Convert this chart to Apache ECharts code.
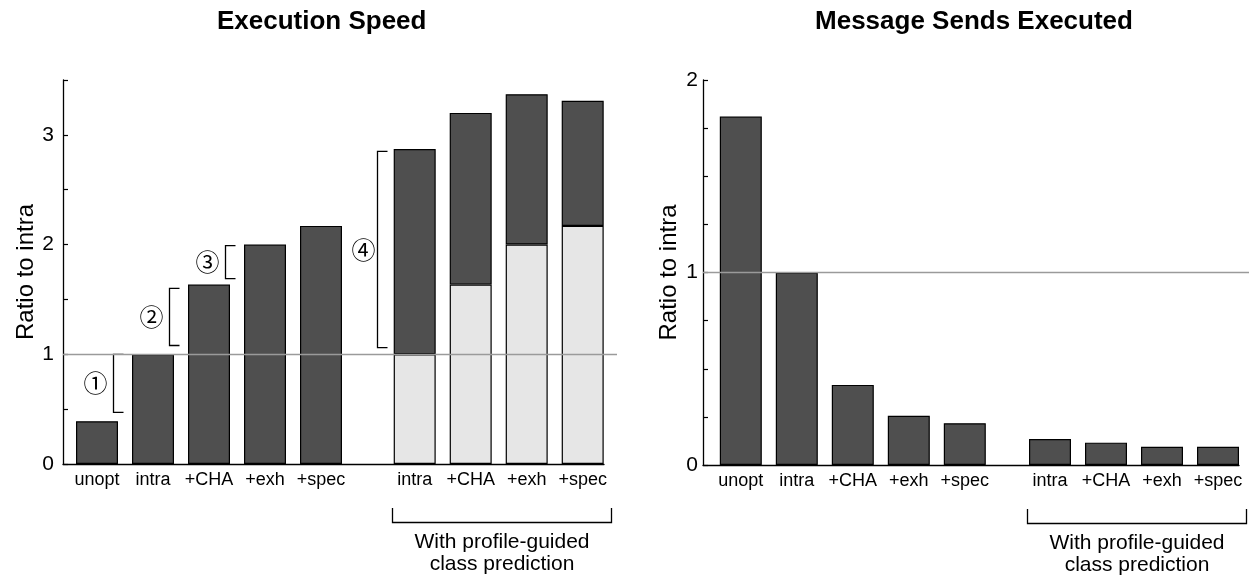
<!DOCTYPE html>
<html><head><meta charset="utf-8">
<script src="https://cdn.jsdelivr.net/npm/echarts@6/dist/echarts.min.js"></script>
<style>html,body{margin:0;padding:0;background:#fff}#c{width:1249px;height:578px}</style>
</head><body><div id="c"></div>
<script>
// ---------- data ----------
const titles = ['Execution Speed', 'Message Sends Executed'];
const yAxisName = 'Ratio to intra';
const baseCats = ['unopt', 'intra', '+CHA', '+exh', '+spec'];
const profileCats = ['intra', '+CHA', '+exh', '+spec'];
const speedBase = [0.39, 1.0, 1.635, 2.0, 2.17];
const speedProfileLower = [1.0, 1.635, 2.0, 2.17];
const speedProfileUpper = [1.87, 1.565, 1.37, 1.14];
const sendsBase = [1.81, 1.0, 0.416, 0.256, 0.217];
const sendsProfile = [0.135, 0.116, 0.095, 0.095];
const speedAxis = [0, 3.5, 0.5];   // min, max, tick step
const sendsAxis = [0, 2, 0.25];
const referenceValue = 1;
const speedStepLabels = ['①', '②', '③'];
const speedStepCats = [0, 1, 2];
const speedStepLow = [0.47, 1.08, 1.69];
const speedStepHigh = [1.0, 1.60, 1.99];
const profileStepLabels = ['④'];
const profileStepCats = [0];
const profileStepLow = [1.06];
const profileStepHigh = [2.85];
const groupNote = ['With profile-guided', 'class prediction'];

// ---------- styles ----------
const FONT = "'Liberation Sans', Arial, Helvetica, sans-serif";
const DARK = '#4f4f4f', LIGHT = '#e6e6e6';
const barStyle = c => ({ color: c, borderColor: '#000', borderWidth: 1.2 });

const charts = [
  { axis: speedAxis, left: 63, axisW: 541, lineW: 554, aLeft: 69, bLeft: 386.7, height: 384, labelMargin: 9, nameGap: 24 },
  { axis: sendsAxis, left: 703, axisW: 536, lineW: 546, aLeft: 712.8, bLeft: 1022, height: 385, labelMargin: 5, nameGap: 22 }
];

const grid = [], xAxis = [], yAxis = [], series = [];
charts.forEach((c, ci) => {
  const g0 = grid.length;
  grid.push({ left: c.left, top: 80, width: c.axisW, height: c.height });
  grid.push({ left: c.left, top: 80, width: c.lineW, height: c.height });
  grid.push({ left: c.aLeft, top: 80, width: 56 * baseCats.length, height: c.height });
  grid.push({ left: c.bLeft, top: 80, width: 56 * profileCats.length, height: c.height });
  const yBase = { type: 'value', min: c.axis[0], max: c.axis[1], interval: c.axis[2], splitLine: { show: false } };
  // axis grid
  xAxis.push({ gridIndex: g0, type: 'category', data: [''], axisLine: { show: true, lineStyle: { color: '#000', width: 1.3 } }, axisTick: { show: false }, axisLabel: { show: false } });
  yAxis.push(Object.assign({}, yBase, {
    gridIndex: g0,
    axisLine: { show: true, lineStyle: { color: '#000', width: 1.3 } },
    axisTick: { show: true, inside: true, length: 5, lineStyle: { color: '#000', width: 1.2 } },
    axisLabel: { color: '#000', fontSize: 21, fontFamily: FONT, margin: c.labelMargin, formatter: v => Number.isInteger(v) ? String(v) : '' },
    name: yAxisName, nameLocation: 'middle', nameGap: c.nameGap, nameRotate: 90,
    nameTextStyle: { color: '#000', fontSize: 24, fontFamily: FONT }
  }));
  // reference line grid
  xAxis.push({ gridIndex: g0 + 1, type: 'category', data: [''], show: false });
  yAxis.push(Object.assign({}, yBase, { gridIndex: g0 + 1, show: false }));
  // group grids
  [baseCats, profileCats].forEach((cats, k) => {
    xAxis.push({ gridIndex: g0 + 2 + k, type: 'category', data: cats,
      axisLine: { show: false }, axisTick: { show: false },
      axisLabel: { color: '#000', fontSize: 18, fontFamily: FONT, margin: 7, interval: 0 } });
    yAxis.push(Object.assign({}, yBase, { gridIndex: g0 + 2 + k, show: false }));
  });

  series.push({ type: 'line', xAxisIndex: g0 + 1, yAxisIndex: g0 + 1, data: [], z: 1,
    markLine: { silent: true, symbol: ['none', 'none'], label: { show: false },
      lineStyle: { color: '#9a9a9a', width: 1.3, type: 'solid' }, data: [{ yAxis: referenceValue }] } });

  if (ci === 0) {
    series.push({ type: 'bar', xAxisIndex: g0 + 2, yAxisIndex: g0 + 2, data: speedBase, barWidth: 42, itemStyle: barStyle(DARK), z: 3 });
    series.push({ type: 'bar', stack: 'p', xAxisIndex: g0 + 3, yAxisIndex: g0 + 3, data: speedProfileLower, barWidth: 42, itemStyle: barStyle(LIGHT), z: 3 });
    series.push({ type: 'bar', stack: 'p', xAxisIndex: g0 + 3, yAxisIndex: g0 + 3, data: speedProfileUpper, barWidth: 42, itemStyle: barStyle(DARK), z: 3 });
    series.push(bracketSeries(g0 + 2, speedStepCats, speedStepLow, speedStepHigh, speedStepLabels, 16, -18));
    series.push(bracketSeries(g0 + 3, profileStepCats, profileStepLow, profileStepHigh, profileStepLabels, -38, -14));
  } else {
    series.push({ type: 'bar', xAxisIndex: g0 + 2, yAxisIndex: g0 + 2, data: sendsBase, barWidth: 42, itemStyle: barStyle(DARK), z: 3 });
    series.push({ type: 'bar', xAxisIndex: g0 + 3, yAxisIndex: g0 + 3, data: sendsProfile, barWidth: 42, itemStyle: barStyle(DARK), z: 3 });
  }
  series.push(noteSeries(g0 + 3));
});

function bracketSeries(axisIdx, cats, lows, highs, labels, dx, lx) {
  return {
    type: 'custom', xAxisIndex: axisIdx, yAxisIndex: axisIdx, clip: false, silent: true, z: 4,
    data: cats.map((c, i) => [c, lows[i], highs[i]]),
    renderItem: (params, api) => {
      const lo = api.coord([api.value(0), api.value(1)]);
      const hi = api.coord([api.value(0), api.value(2)]);
      const x = Math.round(lo[0] + dx) + 0.5;
      return { type: 'group', children: [
        { type: 'polyline', shape: { points: [[x + 10, hi[1]], [x, hi[1]], [x, lo[1]], [x + 10, lo[1]]] },
          style: { stroke: '#000', lineWidth: 1.3, fill: 'none' } },
        { type: 'text', style: { text: labels[params.dataIndex], x: x + lx, y: (lo[1] + hi[1]) / 2,
          align: 'center', verticalAlign: 'middle', fontSize: 24, fontFamily: "'Noto Sans CJK JP', 'DejaVu Sans', sans-serif", fill: '#000' } }
      ] };
    }
  };
}

function noteSeries(axisIdx) {
  return {
    type: 'custom', xAxisIndex: axisIdx, yAxisIndex: axisIdx, clip: false, silent: true, z: 4,
    data: [[0, 0]],
    renderItem: (params, api) => {
      const first = api.coord([0, 0]);
      const last = api.coord([profileCats.length - 1, 0]);
      const w = api.size([1, 0])[0];
      const x0 = Math.round(first[0] - w / 2 + 5) + 0.5, x1 = Math.round(last[0] + w / 2) + 0.5, y0 = first[1];
      return { type: 'group', children: [
        { type: 'polyline', shape: { points: [[x0, y0 + 44], [x0, y0 + 58.5], [x1, y0 + 58.5], [x1, y0 + 44]] },
          style: { stroke: '#000', lineWidth: 1.3, fill: 'none' } },
        { type: 'text', style: { text: groupNote.join('\n'), x: (x0 + x1) / 2, y: y0 + 89.5, align: 'center', verticalAlign: 'middle',
          fontSize: 21, lineHeight: 22, fontFamily: FONT, fill: '#000' } }
      ] };
    }
  };
}

const chart = echarts.init(document.getElementById('c'), null, { renderer: 'canvas' });
chart.setOption({
  animation: false,
  backgroundColor: '#fff',
  title: [
    { text: titles[0], left: 321.7, top: 9, padding: 0, textAlign: 'center', textStyle: { fontSize: 26, fontWeight: 'bold', fontFamily: FONT, color: '#000' } },
    { text: titles[1], left: 974, top: 9, padding: 0, textAlign: 'center', textStyle: { fontSize: 26, fontWeight: 'bold', fontFamily: FONT, color: '#000' } }
  ],
  grid, xAxis, yAxis, series
});
</script></body></html>
